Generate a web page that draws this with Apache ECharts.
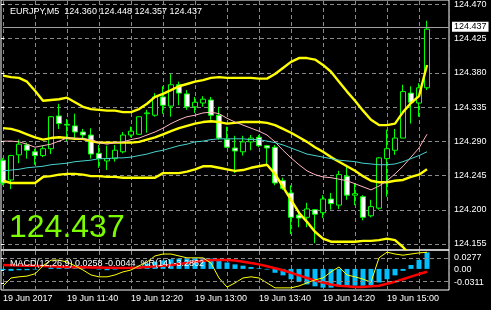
<!DOCTYPE html>
<html><head><meta charset="utf-8">
<script src="https://cdn.jsdelivr.net/npm/echarts@6/dist/echarts.min.js"></script>
<style>html,body{margin:0;padding:0;background:#000;}#c{width:491px;height:310px;}</style>
</head><body><div id="c"></div>
<script>
const headerText = 'EURJPY,M5  124.360 124.448 124.357 124.437';
const bigPrice = '124.437';
const macdText = 'MACD(12,26,9) 0.0258 -0.0044  %R(14) -3.2862';
const dateLabel = '19 Jun 2017';
const barTimes = ["11:00","11:05","11:10","11:15","11:20","11:25","11:30","11:35","11:40","11:45","11:50","11:55","12:00","12:05","12:10","12:15","12:20","12:25","12:30","12:35","12:40","12:45","12:50","12:55","13:00","13:05","13:10","13:15","13:20","13:25","13:30","13:35","13:40","13:45","13:50","13:55","14:00","14:05","14:10","14:15","14:20","14:25","14:30","14:35","14:40","14:45","14:50","14:55","15:00","15:05","15:10","15:15","15:20","15:25"];
const opens = [124.265,124.239,124.272,124.285,124.276,124.271,124.280,124.323,124.312,124.310,124.302,124.298,124.274,124.264,124.267,124.276,124.298,124.299,124.326,124.324,124.348,124.336,124.364,124.352,124.335,124.340,124.344,124.324,124.292,124.281,124.276,124.289,124.295,124.284,124.282,124.238,124.222,124.193,124.190,124.200,124.196,124.214,124.206,124.244,124.219,124.217,124.192,124.202,124.267,124.278,124.294,124.353,124.340,124.360];
const closes = [124.235,124.271,124.286,124.278,124.271,124.280,124.322,124.313,124.311,124.302,124.298,124.273,124.267,124.267,124.278,124.298,124.303,124.322,124.327,124.348,124.337,124.364,124.353,124.335,124.341,124.345,124.324,124.294,124.282,124.277,124.289,124.294,124.284,124.281,124.235,124.228,124.190,124.189,124.201,124.194,124.214,124.208,124.246,124.219,124.221,124.190,124.204,124.268,124.280,124.294,124.355,124.341,124.360,124.437];
const lows = [124.232,124.227,124.261,124.267,124.259,124.269,124.273,124.306,124.290,124.292,124.292,124.267,124.255,124.252,124.263,124.274,124.295,124.298,124.301,124.322,124.326,124.322,124.337,124.331,124.327,124.335,124.318,124.292,124.281,124.248,124.271,124.278,124.282,124.259,124.232,124.226,124.168,124.177,124.177,124.156,124.189,124.200,124.201,124.213,124.206,124.186,124.190,124.200,124.217,124.272,124.294,124.313,124.322,124.357];
const highs = [124.268,124.272,124.292,124.288,124.280,124.284,124.323,124.339,124.319,124.326,124.306,124.307,124.285,124.284,124.285,124.302,124.309,124.322,124.331,124.353,124.362,124.378,124.368,124.357,124.348,124.349,124.348,124.335,124.309,124.297,124.297,124.298,124.298,124.285,124.285,124.242,124.232,124.197,124.209,124.201,124.219,124.222,124.251,124.256,124.235,124.219,124.213,124.269,124.305,124.306,124.364,124.362,124.366,124.448];
const bbUpper = [124.376,124.374,124.373,124.368,124.356,124.343,124.344,124.345,124.347,124.341,124.335,124.332,124.331,124.330,124.330,124.328,124.328,124.332,124.339,124.348,124.352,124.357,124.362,124.365,124.368,124.370,124.373,124.374,124.373,124.373,124.373,124.373,124.372,124.372,124.378,124.386,124.394,124.399,124.399,124.397,124.390,124.381,124.368,124.355,124.343,124.330,124.318,124.311,124.311,124.313,124.328,124.340,124.349,124.390];
const bbMiddle = [124.307,124.306,124.303,124.299,124.295,124.292,124.294,124.295,124.294,124.293,124.293,124.290,124.288,124.288,124.288,124.288,124.288,124.289,124.292,124.295,124.299,124.303,124.307,124.310,124.313,124.315,124.316,124.315,124.313,124.314,124.315,124.315,124.315,124.314,124.311,124.306,124.301,124.295,124.289,124.282,124.276,124.269,124.263,124.257,124.251,124.244,124.238,124.236,124.236,124.238,124.239,124.243,124.246,124.253];
const bbLower = [124.238,124.235,124.235,124.235,124.235,124.243,124.244,124.246,124.247,124.247,124.246,124.244,124.244,124.243,124.243,124.242,124.242,124.242,124.242,124.242,124.248,124.248,124.248,124.250,124.253,124.257,124.257,124.255,124.253,124.251,124.252,124.255,124.257,124.259,124.247,124.230,124.213,124.196,124.184,124.171,124.162,124.158,124.158,124.158,124.158,124.159,124.159,124.160,124.162,124.160,124.151,124.139,124.131,124.118];
const maFast = [124.290,124.290,124.289,124.286,124.282,124.284,124.286,124.290,124.294,124.294,124.293,124.292,124.288,124.286,124.288,124.289,124.292,124.294,124.298,124.302,124.307,124.313,124.318,124.322,124.324,124.327,124.328,124.326,124.320,124.315,124.311,124.307,124.303,124.298,124.289,124.278,124.268,124.259,124.251,124.246,124.243,124.242,124.240,124.238,124.234,124.230,124.226,124.231,124.238,124.247,124.257,124.269,124.281,124.299];
const maSlow = [124.251,124.252,124.253,124.255,124.256,124.257,124.259,124.260,124.261,124.263,124.264,124.265,124.267,124.267,124.268,124.268,124.269,124.271,124.273,124.276,124.278,124.281,124.284,124.286,124.289,124.290,124.292,124.293,124.293,124.293,124.293,124.292,124.292,124.290,124.288,124.285,124.281,124.277,124.273,124.271,124.269,124.267,124.265,124.264,124.263,124.261,124.260,124.259,124.259,124.260,124.263,124.267,124.271,124.276];
const macdHist = [-0.002,-0.003,-0.002,-0.002,-0.001,0.000,0.002,0.003,0.003,0.002,0.001,0.000,-0.001,-0.002,-0.001,0.001,0.003,0.005,0.008,0.011,0.013,0.015,0.016,0.017,0.017,0.017,0.016,0.013,0.010,0.007,0.005,0.003,0.001,-0.001,-0.006,-0.010,-0.016,-0.020,-0.024,-0.027,-0.029,-0.029,-0.027,-0.027,-0.026,-0.026,-0.025,-0.021,-0.016,-0.010,-0.003,0.006,0.014,0.0258];
const macdSignal = [0.006,0.0057,0.0054,0.005,0.0047,0.0045,0.004,0.0035,0.003,0.0027,0.0025,0.0022,0.002,0.0018,0.0016,0.0015,0.0016,0.002,0.003,0.004,0.005,0.006,0.0075,0.009,0.011,0.0125,0.0135,0.014,0.0138,0.013,0.011,0.009,0.007,0.004,0.001,-0.002,-0.006,-0.010,-0.014,-0.018,-0.021,-0.024,-0.026,-0.027,-0.028,-0.028,-0.027,-0.026,-0.023,-0.020,-0.016,-0.012,-0.008,-0.0044];
const wpr = [-92,-71,-68,-66,-60,-39,-24,-24,-29,-39,-50,-63,-68,-68,-63,-55,-50,-39,-29,-13,-8,-8,-13,-18,-18,-18,-32,-71,-95,-84,-71,-68,-71,-84,-97,-97,-97,-92,-84,-76,-71,-55,-42,-63,-68,-74,-82,-18,-3,-8,-11,-8,-5,-3.29];
const priceAxis = {min: 124.155, max: 124.470, step: 0.045};
const macdAxis = {min: -0.0311, max: 0.0277};
const lastPrice = 124.437;

const pair = (arr) => arr.map((v, i) => [i, v]);
const ohlc = opens.map((o, i) => [i, o, closes[i], lows[i], highs[i]]);
const FONT = 'Liberation Sans';
const gridDash = {color: '#8a8a8a', type: [4, 3], width: 1};
const PX_MIN = 124.1484, PX_MAX = 124.4739;
const XMAX = 55.75;

const chart = echarts.init(document.getElementById('c'), null, {renderer: 'canvas'});
const hidden = {show: false};
chart.setOption({
  backgroundColor: '#000',
  animation: false,
  title: [
    {text: headerText, left: 5, top: 2, textStyle: {color: '#fff', fontSize: 9, fontWeight: 'normal', fontFamily: FONT}},
    {text: bigPrice, left: 4, top: 207, textStyle: {color: '#7cfc00', fontSize: 32, fontWeight: 'normal', fontFamily: FONT}},
    {text: macdText, left: 5, top: 254, textStyle: {color: '#fff', fontSize: 9, fontWeight: 'normal', fontFamily: FONT}}
  ],
  grid: [
    {left: 3, top: 1, width: 446, height: 248},
    {left: 1, top: 4, width: 448, height: 240},
    {left: 1, top: -1, width: 448, height: 251, show: true, borderColor: '#fff', borderWidth: 1, backgroundColor: 'transparent'},
    {left: 3, top: 251, width: 446, height: 38},
    {left: 1, top: 250, width: 448, height: 40, show: true, borderColor: '#fff', borderWidth: 1, backgroundColor: 'transparent'},
    {left: 1, top: 258, width: 448, height: 25}
  ],
  xAxis: [
    {gridIndex: 0, type: 'value', min: 0, max: XMAX, interval: 4, axisLine: hidden, axisTick: hidden, axisLabel: hidden, splitLine: {show: true, lineStyle: gridDash}},
    {gridIndex: 1, type: 'value', show: false},
    {gridIndex: 2, type: 'value', show: false},
    {gridIndex: 3, type: 'value', min: 0, max: XMAX, interval: 4, axisLine: hidden, axisTick: hidden,
      splitLine: {show: true, lineStyle: gridDash},
      axisLabel: {show: true, color: '#fff', fontSize: 9, fontFamily: FONT, align: 'left', margin: 5, showMaxLabel: false,
        formatter: (v) => (Number.isInteger(v) && v % 8 === 0 && v < barTimes.length) ? (v === 0 ? dateLabel : '19 Jun ' + barTimes[v]) : ''}},
    {gridIndex: 4, type: 'value', show: false},
    {gridIndex: 5, type: 'value', show: false}
  ],
  yAxis: [
    {gridIndex: 0, type: 'value', min: PX_MIN, max: PX_MAX, show: false},
    {gridIndex: 1, type: 'value', position: 'right', min: priceAxis.min, max: priceAxis.max, interval: priceAxis.step,
      axisLine: hidden, axisTick: {show: true, length: 3, lineStyle: {color: '#fff'}},
      axisLabel: {color: '#fff', fontSize: 9, fontFamily: FONT, margin: 5, formatter: (v) => v.toFixed(3)},
      splitLine: {show: true, lineStyle: gridDash}},
    {gridIndex: 2, type: 'value', show: false},
    {gridIndex: 3, type: 'value', min: macdAxis.min, max: macdAxis.max, show: false},
    {gridIndex: 3, type: 'value', min: -100, max: 0, show: false},
    {gridIndex: 4, type: 'value', show: false},
    {gridIndex: 5, type: 'value', position: 'right', min: macdAxis.min, max: macdAxis.max, interval: -macdAxis.min,
      axisLine: hidden, axisTick: {show: true, length: 3, lineStyle: {color: '#fff'}},
      axisLabel: {color: '#fff', fontSize: 9, fontFamily: FONT, margin: 5, formatter: (v) => Math.abs(v) < 1e-9 ? '0.00' : v.toFixed(4)},
      splitLine: hidden}
  ],
  series: [
    {type: 'candlestick', xAxisIndex: 0, yAxisIndex: 0, data: ohlc, barWidth: 5, clip: false, z: 2,
      itemStyle: {color: '#000', color0: '#fff', borderColor: '#00ff00', borderColor0: '#00ff00', borderWidth: 1},
      markLine: {silent: true, symbol: 'none', animation: false,
        lineStyle: {color: '#a0a0a0', type: 'solid', width: 1},
        label: {show: true, position: 'end', distance: 3, formatter: () => lastPrice.toFixed(3), backgroundColor: '#fff', color: '#000', fontSize: 9, fontFamily: FONT, padding: [1, 2, 0, 2]},
        data: [{yAxis: lastPrice}]}},
    {type: 'line', xAxisIndex: 0, yAxisIndex: 0, data: pair(bbUpper), showSymbol: false, z: 3, lineStyle: {color: '#ffff00', width: 2.4}},
    {type: 'line', xAxisIndex: 0, yAxisIndex: 0, data: pair(bbMiddle), showSymbol: false, z: 3, lineStyle: {color: '#ffff00', width: 2.4}},
    {type: 'line', xAxisIndex: 0, yAxisIndex: 0, data: pair(bbLower), showSymbol: false, z: 3, lineStyle: {color: '#ffff00', width: 2.4}},
    {type: 'line', xAxisIndex: 0, yAxisIndex: 0, data: pair(maFast), showSymbol: false, z: 3, lineStyle: {color: '#ffb6c1', width: 1}},
    {type: 'line', xAxisIndex: 0, yAxisIndex: 0, data: pair(maSlow), showSymbol: false, z: 3, lineStyle: {color: '#48d1cc', width: 1}},
    {type: 'bar', xAxisIndex: 3, yAxisIndex: 3, data: pair(macdHist), barWidth: 5, itemStyle: {color: '#00bfff'}, z: 2},
    {type: 'line', xAxisIndex: 3, yAxisIndex: 3, data: pair(macdSignal), showSymbol: false, z: 3, lineStyle: {color: '#ff0000', width: 2.5}},
    {type: 'line', xAxisIndex: 3, yAxisIndex: 4, data: pair(wpr), showSymbol: false, z: 4, lineStyle: {color: '#ffff00', width: 1},
      markLine: {silent: true, symbol: 'none', label: {show: false}, lineStyle: {color: '#8a8a8a', type: [4, 3], width: 1},
        data: [{yAxis: -20}, {yAxis: -80}]}}
  ]
});
</script></body></html>
